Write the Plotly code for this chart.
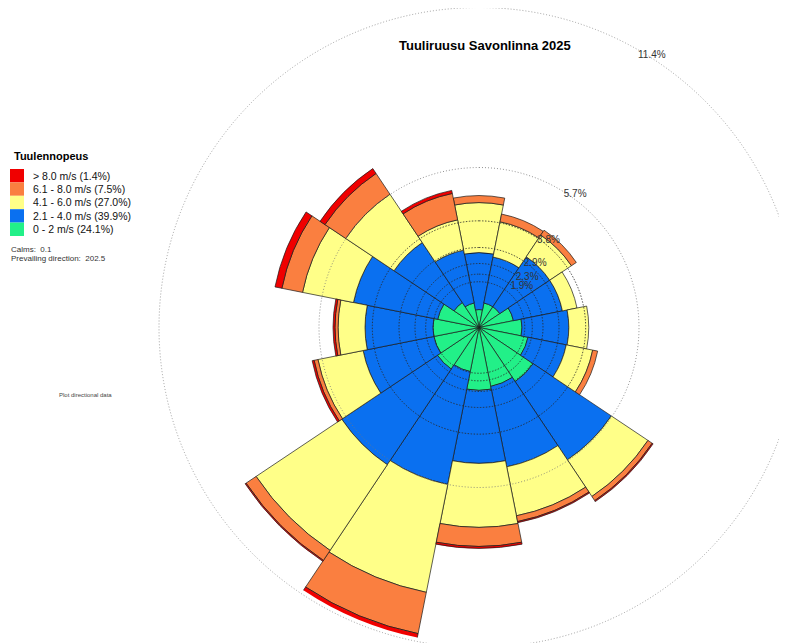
import numpy as np
import plotly.graph_objects as go

# ---- data (percent of time, per direction sector) ----
directions = ["N", "NNE", "NE", "ENE", "E", "ESE", "SE", "SSE",
              "S", "SSW", "SW", "WSW", "W", "WNW", "NW", "NNW"]
angles = [0, 22.5, 45, 67.5, 90, 112.5, 135, 157.5,
          180, 202.5, 225, 247.5, 270, 292.5, 315, 337.5]

speed_0_2 = [0.64, 0.89, 0.89, 1.25, 1.53, 1.78, 2.32, 2.14,
             2.24, 1.60, 1.78, 1.64, 1.64, 1.50, 1.07, 0.89]
speed_2_4 = [2.03, 1.67, 2.14, 1.78, 1.67, 1.39, 3.35, 2.92,
             2.60, 4.10, 4.10, 2.57, 2.42, 3.06, 2.57, 1.92]
speed_4_6 = [1.78, 1.28, 0.93, 0.53, 0.71, 0.96, 1.57, 1.78,
             2.28, 3.92, 3.67, 1.64, 0.96, 1.85, 2.07, 1.10]
speed_6_8 = [0.25, 0.28, 0.21, 0.00, 0.00, 0.18, 0.18, 0.21,
             0.68, 1.50, 0.43, 0.14, 0.11, 0.75, 0.89, 0.96]
speed_8p = [0.00, 0.00, 0.00, 0.00, 0.00, 0.00, 0.04, 0.04,
            0.07, 0.21, 0.04, 0.07, 0.07, 0.25, 0.21, 0.11]

series_names = ["0 - 2 m/s (24.1%)", "2.1 - 4.0 m/s (39.9%)", "4.1 - 6.0 m/s (27.0%)",
                "6.1 - 8.0 m/s (7.5%)", "> 8.0 m/s (1.4%)"]
series_values = [speed_0_2, speed_2_4, speed_4_6, speed_6_8, speed_8p]
series_colors = ["#22F088", "#0A70F0", "#FFFF88", "#FA7F40", "#F00000"]

ring_values = [11.4, 5.7, 3.8, 2.85, 2.28, 1.9, 1.63]
ring_labels = ["11.4%", "5.7%", "3.8%", "2.9%", "2.3%", "1.9%", ""]

title_text = "Tuuliruusu Savonlinna 2025"
legend_title = "Tuulennopeus"
calms_text = "Calms:  0.1"
prevailing_text = "Prevailing direction:  202.5"
side_text = "Plot directional data"

# ---- layout geometry (screen pixels; page body adds an 8px offset) ----
W, H = 787, 643
OFF = 8
CX, CY = 479 - OFF, 327.5 - OFF   # centre of rose in figure pixels
RPX = 316                          # drawn radius in pixels
PX_PER_PCT = 320 / 11.4
RMAX = RPX / PX_PER_PCT


def px(x, y):
    """screen pixel -> paper coords"""
    return (x - OFF) / W, 1 - (y - OFF) / H


FONT = "Liberation Sans, Arial, sans-serif"

fig = go.Figure()
for name, vals, col in zip(series_names, series_values, series_colors):
    fig.add_trace(go.Barpolar(
        r=vals, theta=angles, width=[22.5] * len(angles), name=name,
        marker=dict(color=col, line=dict(color="#1a1a1a", width=0.7)),
        showlegend=False,
    ))

# grid rings drawn on top of the bars
ring_theta = np.arange(0, 361, 1.0)
for i, rv in enumerate(ring_values[1:]):
    fig.add_trace(go.Scatterpolar(
        r=[rv] * len(ring_theta), theta=ring_theta, mode="lines",
        line=dict(color="#777777" if i == 0 else "#2a2a2a", width=0.8,
                  dash="1px,2px" if i == 0 else "1.5px,1.5px"),
        hoverinfo="skip", showlegend=False,
    ))

shapes = []
annotations = []

# outer 11.4 % ring (falls outside the plot area)
R11 = ring_values[0] * PX_PER_PCT
x0, y0 = px(479 - R11, 327.5 + R11)
x1, y1 = px(479 + R11, 327.5 - R11)
shapes.append(dict(type="circle", xref="paper", yref="paper", x0=x0, y0=y0, x1=x1, y1=y1,
                   line=dict(color="#888888", width=0.8, dash="1px,2px"), layer="below"))
ax, ay = px(652, 55)
annotations.append(dict(x=ax, y=ay, xref="paper", yref="paper", text=ring_labels[0],
                        xanchor="center", yanchor="middle", showarrow=False,
                        font=dict(family=FONT, size=10, color="#333333")))

# title
tx, ty = px(485, 46)
annotations.append(dict(x=tx, y=ty, xref="paper", yref="paper", text="<b>%s</b>" % title_text,
                        xanchor="center", yanchor="middle", showarrow=False,
                        font=dict(family=FONT, size=13, color="#000000")))

# manual legend
lx, ly = px(12, 156)
annotations.append(dict(x=lx, y=ly, xref="paper", yref="paper", text="<b>%s</b>" % legend_title,
                        xanchor="left", yanchor="middle", showarrow=False,
                        font=dict(family=FONT, size=11, color="#000000")))
row_top = 169
row_h = 13.4
for i, idx in enumerate(range(len(series_names) - 1, -1, -1)):
    top = row_top + i * row_h
    sx0, sy0 = px(10, top + row_h)
    sx1, sy1 = px(24, top)
    shapes.append(dict(type="rect", xref="paper", yref="paper", x0=sx0, y0=sy0, x1=sx1, y1=sy1,
                       fillcolor=series_colors[idx], line=dict(width=0)))
    tx, ty = px(31, top + row_h / 2)
    annotations.append(dict(x=tx, y=ty, xref="paper", yref="paper", text=series_names[idx],
                            xanchor="left", yanchor="middle", showarrow=False,
                            font=dict(family=FONT, size=10.5, color="#111111")))

for txt, yy in [(calms_text, 249), (prevailing_text, 259)]:
    tx, ty = px(9, yy)
    annotations.append(dict(x=tx, y=ty, xref="paper", yref="paper", text=txt,
                            xanchor="left", yanchor="middle", showarrow=False,
                            font=dict(family=FONT, size=8, color="#333333")))
tx, ty = px(57, 395)
annotations.append(dict(x=tx, y=ty, xref="paper", yref="paper", text=side_text,
                        xanchor="left", yanchor="middle", showarrow=False,
                        font=dict(family=FONT, size=6, color="#444444")))

dx0 = (CX - RPX) / W
dx1 = min((CX + RPX) / W, 1.0)
dy0 = (H - CY - RPX) / H
dy1 = min((H - CY + RPX) / H, 1.0)

fig.update_layout(
    width=W, height=H,
    margin=dict(l=0, r=0, t=0, b=0),
    paper_bgcolor="white",
    showlegend=False,
    barmode="stack",
    shapes=shapes,
    annotations=annotations,
    polar=dict(
        domain=dict(x=[dx0, dx1], y=[dy0, dy1]),
        bgcolor="rgba(0,0,0,0)",
        radialaxis=dict(range=[0, RMAX], tickvals=ring_values[1:6], ticktext=ring_labels[1:6],
                        showgrid=False, showline=False, ticks="", angle=60, tickangle=60,
                        tickfont=dict(family=FONT, size=10, color="#333333")),
        angularaxis=dict(rotation=90, direction="clockwise", showgrid=False,
                         showticklabels=False, showline=False, ticks=""),
    ),
)

fig.write_html("out.html")
